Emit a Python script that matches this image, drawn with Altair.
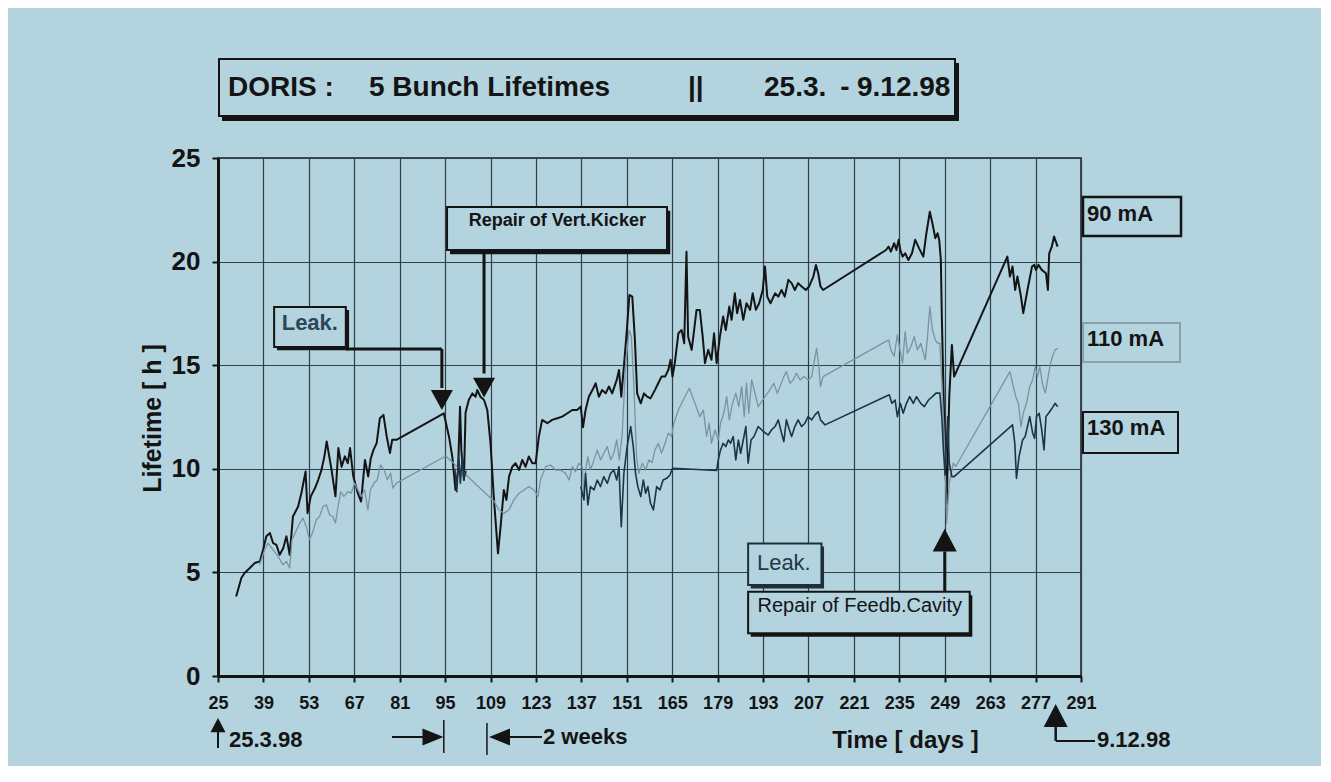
import altair as alt
import pandas as pd

BG = "#b3d3df"
INK = "#141414"
GRID = "#2f3e48"
FONT = "Liberation Sans"

# ---------------- axis ticks ----------------
x_ticks = list(range(25, 292, 14))
y_ticks = [0, 5, 10, 15, 20, 25]

# ---------------- series data ----------------
days_90 = [30.6, 32.2, 33.2, 34.8, 36.3, 37.9, 38.9, 39.9, 41.0, 42.0, 43.0, 44.0, 45.1, 46.1, 47.1,
           48.1, 49.7, 50.7, 52.0, 52.6, 53.6, 54.9, 55.9, 56.9, 57.8, 58.5, 60.0, 61.2, 62.1, 63.1,
           64.1, 65.0, 65.7, 66.7, 68.1, 69.1, 70.3, 71.3, 72.1, 72.9, 73.9, 74.9, 76.0, 77.0, 78.0,
           78.7, 80.0, 94.6, 96.2, 97.2, 98.2, 99.0, 99.6, 100.0, 100.8, 101.3, 102.3, 103.4, 104.4,
           104.9, 105.9, 107.0, 108.0, 109.0, 110.0, 111.3, 112.1, 113.1, 113.9, 114.7, 115.7, 116.7,
           117.8, 118.8, 119.8, 120.8, 121.9, 122.9, 123.9, 124.9, 126.5, 128.0, 129.6, 131.1, 132.7,
           134.2, 135.7, 136.8, 137.5, 138.3, 139.3, 140.4, 141.4, 142.4, 143.4, 144.5, 145.5, 146.5,
           147.9, 148.6, 149.3, 150.1, 151.1, 151.8, 152.7, 153.5, 154.2, 155.3, 156.3, 157.3, 158.3,
           159.7, 160.7, 161.7, 162.8, 163.8, 164.5, 165.1, 165.8, 166.9, 167.9, 168.7, 169.4, 169.9,
           171.0, 171.7, 172.5, 173.5, 174.4, 175.1, 176.1, 177.1, 177.9, 178.7, 179.7, 180.7, 181.5,
           182.6, 183.3, 184.3, 185.0, 185.9, 186.9, 187.9, 189.0, 189.8, 190.8, 191.8, 192.9, 193.6,
           194.3, 195.3, 196.7, 197.7, 198.7, 199.7, 200.8, 201.8, 202.8, 203.8, 204.9, 206.2, 207.2,
           208.5, 209.3, 210.0, 210.7, 211.5, 230.9, 231.7, 232.4, 233.4, 234.1, 234.8, 235.3, 236.0,
           236.8, 237.8, 238.9, 239.9, 241.1, 242.4, 243.2, 244.4, 245.2, 246.1, 246.8, 247.3, 247.8,
           248.1, 248.8, 249.3, 249.6, 250.4, 251.2, 251.9, 268.3, 269.1, 269.9, 270.7, 271.4, 272.5,
           273.2, 274.5, 275.9, 276.6, 277.1, 277.9, 278.9, 280.2, 280.8, 281.2, 282.0, 282.7, 283.8]
life_90 = [3.84, 4.73, 4.97, 5.21, 5.45, 5.53, 6.09, 6.74, 6.90, 6.41, 6.33, 5.85, 6.17, 6.74, 5.85,
           7.70, 8.18, 8.83, 9.87, 7.86, 8.67, 9.07, 9.47, 9.95, 10.60, 11.32, 9.95, 8.67, 11.00, 10.10,
           10.60, 10.27, 11.00, 9.63, 8.83, 8.42, 10.43, 9.63, 10.50, 10.90, 11.24, 12.44, 12.60, 11.56, 10.76,
           11.40, 11.40, 12.68, 11.55, 10.60, 8.98, 9.94, 13.00, 10.90, 9.46, 12.70, 13.32, 13.64, 13.48,
           13.80, 13.48, 13.32, 12.84, 11.23, 8.66, 5.92, 7.21, 8.98, 8.50, 9.62, 10.10, 10.27,
           9.94, 10.43, 10.10, 10.59, 10.27, 10.27, 11.55, 12.36, 12.20, 12.36, 12.44, 12.52, 12.68,
           12.84, 12.84, 13.00, 12.00, 12.84, 13.48, 13.80, 14.13, 13.48, 13.80, 13.64, 13.97, 13.64,
           14.29, 14.77, 13.48, 14.93, 16.86, 18.39, 18.31, 16.22, 13.64, 13.16, 13.64, 13.48, 13.40,
           13.81, 14.13, 14.45, 14.45, 14.77, 15.26, 14.45, 15.10, 16.54, 16.70, 16.06, 20.48, 16.38,
           15.74, 16.62, 17.67, 17.67, 16.38, 15.10, 15.74, 15.26, 16.54, 15.10, 16.38, 17.35, 16.70,
           17.83, 17.19, 18.47, 17.51, 18.15, 17.19, 17.99, 17.67, 18.47, 17.67, 17.99, 18.63, 19.76,
           18.31, 17.99, 18.47, 18.31, 18.63, 18.31, 19.12, 18.96, 18.63, 18.96, 18.80, 18.63, 18.80,
           19.28, 19.84, 19.44, 18.80, 18.63, 20.56, 20.72, 20.48, 20.89, 20.56, 21.05, 20.56, 20.24,
           20.40, 20.08, 20.40, 21.05, 20.64, 20.24, 21.21, 22.41, 21.85, 21.13, 21.37, 21.05, 20.08,
           17.35, 12.52, 9.70, 8.30, 13.50, 15.98, 14.45, 20.24, 19.28, 19.76, 18.63, 19.28, 18.31,
           17.51, 18.63, 19.76, 19.84, 19.60, 19.84, 19.60, 19.44, 18.63, 20.40, 20.72, 21.21, 20.72]

days_110 = [37.8, 39.4, 40.4, 42.0, 43.5, 45.0, 46.1, 47.1, 47.8, 48.8, 50.2, 51.2, 52.2, 53.2, 54.3,
            55.3, 56.3, 57.4, 58.4, 59.4, 60.4, 61.2, 62.0, 62.8, 63.8, 65.1, 66.1, 67.1, 68.1, 69.2,
            70.2, 71.2, 72.0, 73.1, 74.1, 75.1, 76.2, 77.2, 78.2, 78.9, 80.0, 95.2, 110.0, 111.6, 113.1,
            114.7, 116.2, 117.8, 119.3, 120.8, 122.4, 123.6, 124.4, 126.0, 127.5, 129.1, 130.6, 132.1,
            133.2, 134.2, 135.2, 136.2, 137.3, 137.8, 138.3, 139.0, 139.8, 140.9, 141.9, 142.9, 143.9,
            145.0, 146.0, 147.0, 147.9, 148.7, 149.6, 150.6, 151.7, 152.4, 153.2, 154.0, 154.7, 155.8,
            156.8, 157.8, 158.8, 159.7, 160.7, 161.7, 162.8, 163.8, 164.8, 165.5, 166.9, 168.4, 170.3,
            172.0, 173.5, 174.6, 175.6, 176.4, 177.1, 178.2, 179.2, 179.9, 180.9, 181.8, 182.6, 183.6,
            184.6, 185.5, 186.4, 187.2, 187.9, 188.6, 189.5, 190.5, 191.5, 193.6, 195.1, 196.3, 197.4,
            198.4, 199.4, 200.2, 201.3, 202.3, 203.3, 204.4, 205.6, 206.9, 208.0, 208.7, 209.5, 210.2,
            210.7, 211.5, 231.7, 232.4, 233.4, 234.4, 235.2, 236.0, 236.8, 237.5, 238.6, 239.6, 240.6,
            241.6, 243.0, 243.7, 244.4, 245.2, 246.1, 246.8, 247.5, 248.1, 248.8, 249.3, 249.6, 250.4,
            251.6, 252.4, 269.1, 269.9, 270.9, 271.7, 272.5, 273.2, 274.2, 275.2, 276.1, 276.9, 277.6,
            278.3, 279.1, 280.0, 280.7, 281.4, 282.2, 283.0, 283.8]
life_110 = [5.37, 6.09, 6.41, 6.09, 5.77, 5.37, 5.53, 5.21, 6.58, 6.90, 7.38, 7.62, 7.22, 6.58, 6.98,
            7.54, 7.70, 8.18, 8.26, 7.78, 7.70, 7.38, 8.18, 8.90, 8.67, 8.90, 8.83, 9.31, 8.99, 8.67,
            8.99, 8.02, 8.99, 9.31, 9.47, 10.19, 9.95, 9.47, 9.79, 9.07, 9.31, 10.62, 8.45, 8.02, 7.85,
            8.02, 8.50, 8.82, 8.98, 9.14, 8.98, 8.66, 9.46, 10.10, 10.18, 9.94, 9.94, 9.78,
            9.46, 10.10, 9.86, 10.27, 10.10, 8.60, 9.94, 10.59, 9.94, 10.43, 10.91, 10.43, 10.75,
            11.07, 10.43, 10.75, 11.39, 10.43, 11.71, 14.93, 16.70, 16.38, 13.96, 10.59, 9.78, 10.27,
            9.94, 10.43, 10.30, 10.91, 11.23, 10.75, 11.23, 11.72, 11.56, 12.20, 12.84, 13.32, 13.89,
            13.16, 12.52, 12.84, 11.56, 12.20, 11.23, 11.88, 11.39, 12.20, 12.68, 13.48, 12.36, 13.16,
            13.65, 13.00, 13.97, 12.52, 14.13, 12.68, 14.29, 13.65, 13.00, 13.48, 13.81, 14.13, 13.65,
            14.05, 14.45, 14.69, 14.13, 14.29, 14.61, 14.29, 14.45, 14.29, 14.45, 15.10, 15.82, 14.93,
            13.97, 14.45, 16.22, 15.74, 15.42, 16.46, 15.74, 15.10, 16.62, 15.58, 15.90, 16.38, 15.74,
            16.06, 15.26, 16.38, 17.83, 16.70, 16.22, 16.06, 16.06, 14.13, 11.72, 9.30, 7.37, 9.30,
            10.27, 10.11, 14.69, 14.13, 13.48, 13.16, 12.04, 12.68, 13.16, 13.97, 14.29, 14.93, 14.45,
            14.93, 14.13, 13.65, 14.29, 14.93, 15.42, 15.74, 15.82]

days_130_early = [98.0, 98.6, 99.2, 99.7, 100.3, 100.8, 101.5]
life_130_early = [10.0, 8.9, 10.6, 9.3, 10.6, 9.5, 9.9]

days_130 = [136.8, 137.8, 138.3, 139.0, 139.8, 140.9, 141.9, 142.9, 143.9, 145.0, 146.0, 147.0, 147.9,
            148.6, 149.3, 150.1, 151.1, 152.2, 153.0, 153.7, 154.4, 155.3, 156.1, 156.8, 157.5, 158.3,
            159.2, 160.2, 161.2, 162.2, 163.3, 164.3, 165.1, 178.7, 179.2, 179.9, 180.7, 181.5, 182.3,
            183.0, 183.8, 184.6, 185.4, 186.1, 186.9, 187.7, 188.4, 189.3, 190.2, 191.5, 193.1, 194.6,
            195.6, 196.7, 197.7, 198.7, 199.4, 200.2, 201.1, 201.8, 202.8, 203.8, 204.9, 205.9, 206.9,
            208.0, 209.0, 210.0, 210.7, 212.1, 231.9, 232.7, 233.7, 234.4, 235.3, 236.2, 237.2, 238.2,
            239.3, 240.3, 241.6, 242.7, 244.0, 245.2, 246.3, 247.5, 248.1, 248.6, 249.1, 249.9, 250.4,
            251.2, 251.9, 269.9, 270.6, 271.1, 271.9, 273.0, 273.8, 274.5, 275.2, 276.1, 276.7, 277.3,
            278.1, 278.9, 279.6, 280.2, 281.0, 281.7, 282.4, 283.0, 283.8]
life_130 = [9.14, 8.50, 9.78, 8.26, 9.14, 8.98, 9.46, 9.14, 9.62, 9.30, 9.78, 9.94, 9.46,
            10.10, 7.21, 9.78, 11.07, 12.04, 11.07, 9.78, 9.14, 8.66, 9.46, 8.82, 9.14, 8.34,
            8.02, 9.14, 8.98, 9.46, 9.54, 9.70, 10.03, 9.92, 10.43, 10.91, 11.23, 11.07, 11.39,
            11.23, 11.56, 10.43, 11.39, 10.75, 11.39, 12.04, 10.27, 11.39, 11.56, 12.04, 11.80, 11.63,
            11.88, 12.04, 12.36, 11.72, 11.31, 12.36, 11.88, 11.56, 12.04, 12.36, 12.04, 12.20, 12.52,
            12.36, 12.60, 12.76, 12.36, 12.12, 13.57, 13.16, 13.32, 12.52, 13.16, 12.68, 13.16, 13.48,
            13.16, 13.48, 13.16, 13.00, 13.32, 13.48, 13.65, 13.65, 12.52, 10.91, 9.70, 12.52, 10.27,
            9.62, 9.62, 12.12, 11.23, 9.54, 10.59, 11.39, 11.56, 12.04, 12.52, 11.72, 11.47, 12.52,
            12.68, 11.88, 10.91, 12.52, 12.68, 12.84, 13.00, 13.16, 13.00]

series_names = ["90 mA", "110 mA", "130 mA"]
series_colors = ["#141414", "#7a93a3", "#1d3448"]
series_widths = [2.0, 1.3, 1.6]

# ---------------- annotation texts ----------------
title_parts = ["DORIS :", "5 Bunch Lifetimes", "||", "25.3.", "-", "9.12.98"]
label_names = ["90 mA", "110 mA", "130 mA"]
note_texts = ["Leak.", "Repair of Vert.Kicker", "Leak.", "Repair of Feedb.Cavity"]

# ---------------- build table ----------------
rows = []
def add(name, part, days, vals):
    for d, v in zip(days, vals):
        rows.append({"series": name, "part": part, "day": d, "lifetime": v})

add("90 mA", "a", days_90, life_90)
add("110 mA", "a", days_110, life_110)
add("130 mA", "a", days_130_early, life_130_early)
add("130 mA", "b", days_130, life_130)
df = pd.DataFrame(rows)

W, H = 863, 518
xs = alt.Scale(domain=[25, 291], nice=False, zero=False)
ys = alt.Scale(domain=[0, 25], nice=False, zero=False)

x_axis = alt.Axis(values=x_ticks, format="d", title="Time [ days ]",
                  labelFont=FONT, labelFontSize=18, labelFontWeight="bold", labelColor=INK,
                  labelPadding=12, labelFlush=False, labelOverlap=False,
                  tickSize=6, tickColor=INK, tickWidth=2,
                  domainColor=INK, domainWidth=3,
                  grid=True, gridColor=GRID, gridWidth=1.2, gridOpacity=1,
                  titleFont=FONT, titleFontSize=24, titleFontWeight="bold", titleColor=INK,
                  titleX=687, titleY=64, titleBaseline="middle", titleAlign="center")
y_axis = alt.Axis(values=y_ticks, format="d", title="Lifetime [ h ]",
                  labelFont=FONT, labelFontSize=26, labelFontWeight="bold", labelColor=INK,
                  labelPadding=12, labelFlush=False, labelOverlap=False,
                  tickSize=6, tickColor=INK, tickWidth=2,
                  domainColor=INK, domainWidth=3,
                  grid=True, gridColor=GRID, gridWidth=1.2, gridOpacity=1,
                  titleFont=FONT, titleFontSize=25, titleFontWeight="bold", titleColor=INK,
                  titleX=-66, titleY=260, titleAngle=270, titleBaseline="middle", titleAlign="center")

def X(field):
    return alt.X(field, scale=xs, axis=x_axis)

def Y(field):
    return alt.Y(field, scale=ys, axis=y_axis)

layers = []
for i, name in enumerate(series_names):
    sub = df[df["series"] == name]
    layers.append(
        alt.Chart(sub).mark_line(color=series_colors[i], strokeWidth=series_widths[i],
                                 strokeJoin="round")
        .encode(x=X("day:Q"), y=Y("lifetime:Q"), detail="part:N")
    )

one = pd.DataFrame({"k": [0]})

def px_rect(x1, x2, y1, y2, **kw):
    return alt.Chart(one).mark_rect(**kw).encode(
        x=alt.value(x1), x2=alt.value(x2), y=alt.value(y1), y2=alt.value(y2))

def px_text(txt, x, y, size, weight="bold", align="left", color=INK):
    return alt.Chart(one).mark_text(text=txt, font=FONT, fontSize=size, fontWeight=weight,
                                    align=align, baseline="middle", color=color).encode(
        x=alt.value(x), y=alt.value(y))

def px_rule(x1, x2, y1, y2, w=2, color=INK):
    return alt.Chart(one).mark_rule(color=color, strokeWidth=w).encode(
        x=alt.value(x1), x2=alt.value(x2), y=alt.value(y1), y2=alt.value(y2))

def d_rect(x1, x2, y1, y2, **kw):
    d = pd.DataFrame({"day": [x1], "day2": [x2], "lifetime": [y1], "lifetime2": [y2]})
    return alt.Chart(d).mark_rect(**kw).encode(
        x=X("day:Q"), x2="day2:Q", y=Y("lifetime:Q"), y2="lifetime2:Q")

def d_rule(x1, x2, y1, y2, w=3):
    d = pd.DataFrame({"day": [x1], "day2": [x2], "lifetime": [y1], "lifetime2": [y2]})
    return alt.Chart(d).mark_rule(color=INK, strokeWidth=w).encode(
        x=X("day:Q"), x2="day2:Q", y=Y("lifetime:Q"), y2="lifetime2:Q")

def d_text(txt, x, y, size, weight="bold", color=INK):
    d = pd.DataFrame({"day": [x], "lifetime": [y]})
    return alt.Chart(d).mark_text(text=txt, font=FONT, fontSize=size, fontWeight=weight,
                                  align="center", baseline="middle", color=color).encode(
        x=X("day:Q"), y=Y("lifetime:Q"))

DOWN = "M-1,-0.9L1,-0.9L0,0.9Z"
UP = "M0,-0.95L1,0.95L-1,0.95Z"
RIGHT = "M-1,-0.8L1,0L-1,0.8Z"
LEFT = "M1,-0.8L-1,0L1,0.8Z"

def d_head(shape, x, y, size):
    d = pd.DataFrame({"day": [x], "lifetime": [y]})
    return alt.Chart(d).mark_point(shape=shape, size=size, filled=True, color=INK,
                                   opacity=1, strokeWidth=0).encode(
        x=X("day:Q"), y=Y("lifetime:Q"))

def dx_head(shape, x, ypx, size):
    d = pd.DataFrame({"day": [x]})
    return alt.Chart(d).mark_point(shape=shape, size=size, filled=True, color=INK,
                                   opacity=1, strokeWidth=0).encode(
        x=X("day:Q"), y=alt.value(ypx))

def px_head(shape, xpx, ypx, size):
    return alt.Chart(one).mark_point(shape=shape, size=size, filled=True, color=INK,
                                     opacity=1, strokeWidth=0).encode(
        x=alt.value(xpx), y=alt.value(ypx))

def dx_rule(x, y1, y2, w=2):
    d = pd.DataFrame({"day": [x]})
    return alt.Chart(d).mark_rule(color=INK, strokeWidth=w).encode(
        x=X("day:Q"), y=alt.value(y1), y2=alt.value(y2))

ann = []
# title box
ann.append(px_rect(4, 741, -95, -37, color=INK))
ann.append(px_rect(1, 737, -99, -42, fill=BG, stroke=INK, strokeWidth=2))
ann.append(px_text(title_parts[0], 10, -70, 28))
ann.append(px_text(title_parts[1], 151, -70, 28))
ann.append(px_text(title_parts[2], 470, -70, 28))
ann.append(px_text(title_parts[3], 546, -70, 28))
ann.append(px_text(title_parts[4], 627, -70, 28, align="center"))
ann.append(px_text(title_parts[5], 639, -70, 28))

# series labels on the right
ann.append(px_rect(865, 963, 39, 78, fill=BG, stroke=INK, strokeWidth=2.5))
ann.append(px_text(label_names[0], 869, 56, 22))
ann.append(px_rect(865, 962, 165, 204, fill=BG, stroke="#8ba1ad", strokeWidth=2))
ann.append(px_text(label_names[1], 869, 181, 22))
ann.append(px_rect(865, 960, 254, 295, fill=BG, stroke=INK, strokeWidth=2))
ann.append(px_text(label_names[2], 869, 270, 22))

# upper "Leak." note
ann.append(d_rect(43.2, 65.4, 15.72, 17.66, color=INK))
ann.append(d_rect(42.3, 64.4, 15.88, 17.81, fill=BG, stroke=INK, strokeWidth=2))
ann.append(d_text(note_texts[0], 53.3, 17.05, 22, color="#2c4757"))
ann.append(d_rule(64.4, 94.0, 15.78, 15.78, w=3))
ann.append(d_rule(94.0, 94.0, 15.78, 13.9, w=3))
ann.append(d_head(DOWN, 94.0, 13.32, 484))

# Vert.Kicker note
ann.append(d_rect(96.5, 164.4, 20.36, 22.45, color=INK))
ann.append(d_rect(95.6, 163.4, 20.56, 22.63, fill=BG, stroke=INK, strokeWidth=2))
ann.append(d_text(note_texts[1], 129.6, 21.95, 18))
ann.append(d_rule(107.0, 107.0, 20.5, 14.6, w=3))
ann.append(d_head(DOWN, 107.0, 13.92, 484))

# lower "Leak." + Feedb.Cavity notes
ann.append(d_rect(189.2, 211.8, 4.22, 6.25, color="#1f2f3a"))
ann.append(d_rect(188.4, 211.0, 4.39, 6.40, fill=BG, stroke="#1f2f3a", strokeWidth=2))
ann.append(d_text(note_texts[2], 199.4, 5.45, 22, weight="normal", color="#22394a"))
ann.append(d_rect(189.2, 257.5, 1.9, 3.9, color=INK))
ann.append(d_rect(188.4, 256.7, 2.06, 4.07, fill=BG, stroke=INK, strokeWidth=2))
ann.append(d_text(note_texts[3], 222.8, 3.4, 20, weight="normal"))
ann.append(d_rule(249.0, 249.0, 4.07, 6.0, w=3))
ann.append(d_head(UP, 249.0, 6.56, 576))

# below-axis markers
ann.append(dx_head(UP, 25, 567, 225))
ann.append(dx_rule(25, 574, 590, w=2))
ann.append(px_text("25.3.98", 11, 582, 22))

ann.append(px_rule(174, 206, 579, 579, w=2))
ann.append(px_head(RIGHT, 215, 579, 441))
ann.append(dx_rule(94.6, 562, 595, w=1.5))

ann.append(dx_rule(107.9, 565, 597, w=1.5))
ann.append(px_head(LEFT, 281.5, 579, 441))
ann.append(px_rule(290, 324, 579, 579, w=2))
ann.append(px_text("2 weeks", 325, 579, 22))

ann.append(dx_head(UP, 283.2, 557.5, 576))
ann.append(dx_rule(283.2, 569, 583, w=2.5))
ann.append(px_rule(838, 877, 583, 583, w=2))
ann.append(px_text("9.12.98", 879, 582, 22))

chart = alt.layer(*layers, *ann).properties(
    width=W, height=H, background=BG,
    padding={"left": 210, "top": 150, "right": 240, "bottom": 90},
    autosize=alt.AutoSizeParams(type="none"),
).configure_view(stroke="#1e1e1e", strokeWidth=1.5)

chart.save("out.html", embed_options={"renderer": "svg", "actions": False})
